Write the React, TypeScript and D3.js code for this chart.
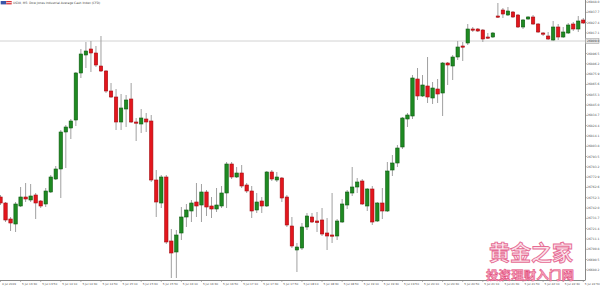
import React from "react";
import * as d3 from "d3";

const openP = [26753,26747,26731,26726,26744,26753,26750,26755,26749,26746,
26758,26771,26781,26818,26822,26830,26877,26895,26901,26897,
26884,26879,26859,26853,26828,26841,26851,26828,26826,26831,
26829,26770,26747,26773,26709,26698,26717,26733,26739,26748,
26745,26758,26744,26741,26744,26757,26786,26773,26777,26765,
26759,26740,26749,26744,26778,26770,26772,26753,26724,26700,
26702,26723,26733,26729,26730,26717,26715,26714,26728,26745,
26757,26763,26769,26744,26761,26729,26747,26739,26780,26787,
26803,26831,26834,26871,26854,26864,26852,26861,26857,26887,
26884,26893,26904,26907,26921,26921,26920,26913,26913,26934,
26940,26935,26938,26935,26923,26931,26933,26926,26917,26914,
26910,26923,26913,26917,26926,26921,26930];

const highP = [26755,26748,26733,26748,26763,26767,26766,26757,26750,26762,
26775,26784,26820,26825,26831,26878,26901,26908,26909,26904,
26914,26880,26867,26861,26856,26855,26867,26832,26841,26837,
26835,26780,26775,26775,26721,26720,26743,26746,26750,26767,
26766,26760,26753,26762,26764,26788,26788,26783,26785,26767,
26764,26757,26753,26779,26780,26778,26773,26755,26733,26707,
26727,26737,26737,26738,26742,26732,26757,26731,26751,26760,
26783,26772,26771,26762,26764,26748,26762,26788,26795,26805,
26833,26837,26875,26882,26875,26893,26868,26871,26888,26888,
26895,26909,26908,26926,26923,26922,26921,26917,26918,26947,
26942,26943,26939,26936,26931,26934,26935,26927,26918,26918,
26929,26926,26923,26927,26928,26934,26932];

const lowP = [26745,26728,26719,26718,26743,26748,26748,26731,26742,26743,
26757,26770,26752,26782,26811,26824,26872,26882,26878,26883,
26878,26857,26852,26820,26820,26823,26827,26809,26817,26818,
26768,26733,26742,26706,26672,26672,26710,26723,26728,26733,
26728,26734,26732,26738,26742,26742,26771,26772,26762,26757,
26732,26737,26737,26743,26769,26768,26748,26723,26702,26678,
26700,26720,26727,26718,26714,26700,26707,26710,26727,26741,
26754,26757,26745,26739,26725,26728,26731,26738,26774,26783,
26801,26823,26831,26850,26853,26847,26846,26847,26834,26865,
26870,26890,26889,26905,26918,26918,26908,26911,26912,26932,
26932,26934,26932,26922,26921,26930,26925,26917,26914,26910,
26909,26910,26912,26916,26919,26918,26926];

const closeP = [26747,26730,26727,26746,26753,26751,26754,26747,26744,26759,
26773,26781,26818,26823,26829,26877,26896,26899,26897,26885,
26879,26859,26853,26828,26842,26850,26828,26827,26832,26828,
26770,26748,26773,26708,26697,26715,26733,26740,26747,26744,
26758,26743,26741,26745,26757,26786,26773,26777,26764,26759,
26739,26748,26744,26778,26771,26773,26752,26725,26704,26703,
26723,26734,26728,26727.5,26716,26714,26714,26729,26746,26758,
26763,26768,26746,26761,26728,26747,26739,26779,26787,26802,
26832,26835,26872,26854,26865,26853,26862,26856,26887,26885,
26893,26903,26903,26921,26920,26919,26911,26912,26917,26933,
26936,26939,26933,26923,26930,26933,26926,26918,26916,26911,
26923,26913,26918,26925,26921,26929,26927];

const priceTicks = [26948.0, 26937.7, 26927.4, 26917.1, 26906.8, 26896.5, 26886.2, 26875.9, 26865.6, 26855.3,
  26845.0, 26834.7, 26824.4, 26814.1, 26803.8, 26793.5, 26783.2, 26772.9, 26762.6, 26752.3,
  26742.0, 26731.7, 26721.4, 26711.1, 26700.8, 26690.5, 26680.2];

const currentLevel = 26909.0;

const timeLabels = ["4 Jul 2019", "5 Jul 13:30", "5 Jul 13:50", "5 Jul 14:10", "5 Jul 14:30", "5 Jul 14:50",
  "5 Jul 15:10", "5 Jul 15:30", "5 Jul 15:50", "5 Jul 16:10", "5 Jul 16:30", "5 Jul 16:50",
  "5 Jul 17:10", "5 Jul 17:30", "5 Jul 17:50", "5 Jul 18:10", "5 Jul 18:30", "5 Jul 18:50",
  "5 Jul 19:10", "5 Jul 19:30", "5 Jul 19:50", "5 Jul 20:10", "5 Jul 20:30", "5 Jul 20:50",
  "5 Jul 21:10", "5 Jul 21:30", "5 Jul 21:50", "5 Jul 22:10", "5 Jul 22:30", "5 Jul 22:50"];
const timeLabelBars = [0,4,8,12,16,20,24,28,32,36,40,44,48,52,56,60,64,68,72,76,80,84,88,92,96,100,104,108,112,116];

const title = "US30, M5: Dow Jones Industrial Average Cash Index (CFD)";
const wmTop = "黄金之家";
const wmBottom = "投资理财入门网";

export default function App() {
  const W = 600, H = 286;
  const plotRight = 585, plotBottom = 280;
  const n = openP.length;
  const x = d3.scaleLinear().domain([0, n - 1]).range([0.5, 583.3]);
  const y = d3.scaleLinear().domain([26670, 26950]).range([plotBottom, 0]);
  const bw = 3.4;
  const font = "DejaVu Sans, Liberation Sans, sans-serif";
  const cy = y(currentLevel);

  return (
    <svg width={W} height={H} viewBox={`0 0 ${W} ${H}`}
      style={{ position: "absolute", left: 0, top: 0, background: "#fff" }}>
      <rect x={0} y={0} width={W} height={H} fill="#fff" />
      <defs>
        <clipPath id="plot"><rect x={0} y={0} width={plotRight} height={plotBottom} /></clipPath>
      </defs>
      {/* current price line */}
      <line x1={0} x2={plotRight} y1={cy} y2={cy} stroke="#d2d2d2" strokeWidth={1} />
      <g clipPath="url(#plot)">
        {openP.map((o, i) => {
          const c = closeP[i];
          const up = c >= o;
          const cx = x(i);
          const top = y(Math.max(o, c));
          const h = Math.max(1.2, Math.abs(y(o) - y(c)));
          return (
            <g key={i}>
              <line x1={cx} x2={cx} y1={y(highP[i])} y2={y(lowP[i])} stroke="#a0a0a0" strokeWidth={1} />
              <rect x={cx - bw / 2} y={top} width={bw} height={h}
                fill={up ? "#1e8a22" : "#e3161d"} stroke={up ? "#0e5c11" : "#a60d12"} strokeWidth={0.6} />
            </g>
          );
        })}
      </g>
      {/* title */}
      <rect x={0.7} y={1} width={5.5} height={3.4} fill="#3a55a8" />
      <rect x={6.2} y={1} width={5.5} height={3.4} fill="#d8333b" />
      <rect x={6.2} y={2.3} width={5.5} height={0.8} fill="#fff" />
      <text x={13} y={4.1} fontSize={3} fontFamily={font} fill="#444">{title}</text>
      {/* axes */}
      <line x1={plotRight + 0.5} x2={plotRight + 0.5} y1={0} y2={plotBottom} stroke="#888" strokeWidth={1} />
      <line x1={0} x2={plotRight + 0.5} y1={plotBottom + 0.5} y2={plotBottom + 0.5} stroke="#888" strokeWidth={1} />
      {priceTicks.filter(p => Math.abs(y(p) - cy) > 4).map((p, i) => (
        <g key={"p" + i}>
          <line x1={plotRight} x2={plotRight + 2} y1={y(p)} y2={y(p)} stroke="#888" strokeWidth={0.6} />
          <text x={587} y={y(p) + 1} fontSize={3} fontFamily={font} fill="#555">{p.toFixed(1)}</text>
        </g>
      ))}
      <rect x={585.5} y={cy - 2.6} width={13.5} height={5.2} fill="#e4e4e4" stroke="#9a9a9a" strokeWidth={0.5} />
      <text x={587} y={cy + 1} fontSize={3} fontFamily={font} fill="#444">{currentLevel.toFixed(1)}</text>
      {timeLabels.map((t, i) => {
        const tx = x(timeLabelBars[i]);
        return (
          <g key={"t" + i}>
            <line x1={tx} x2={tx} y1={plotBottom} y2={plotBottom + 2} stroke="#888" strokeWidth={0.6} />
            <text x={tx + 1.5} y={284.5} fontSize={2.8} fontFamily={font} fill="#555">{t}</text>
          </g>
        );
      })}
      {/* watermark */}
      <text x={489} y={260} fontSize={21} fontFamily="Noto Sans CJK SC" fontWeight="bold"
        textLength={84} lengthAdjust="spacingAndGlyphs"
        fill="#fbe3eb" stroke="#e66b94" strokeWidth={0.9}>{wmTop}</text>
      <text x={486} y={280} fontSize={12} fontFamily="Noto Sans CJK SC" fontWeight="bold"
        textLength={88} lengthAdjust="spacingAndGlyphs"
        fill="#f5a3bb" stroke="#e24a7c" strokeWidth={0.5}>{wmBottom}</text>
    </svg>
  );
}
